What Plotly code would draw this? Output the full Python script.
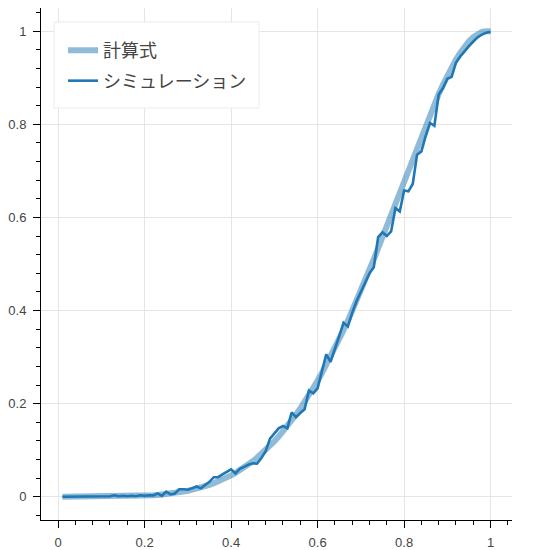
import plotly.graph_objects as go

x_vals = [round(0.01 * i, 2) for i in range(1, 101)]

formula_y = [
    0.0000, 0.0000, 0.0000, 0.0000, 0.0000, 0.0000, 0.0000, 0.0000, 0.0001, 0.0001,
    0.0001, 0.0002, 0.0003, 0.0004, 0.0005, 0.0007, 0.0010, 0.0013, 0.0016, 0.0020,
    0.0025, 0.0031, 0.0038, 0.0046, 0.0056, 0.0067, 0.0079, 0.0093, 0.0109, 0.0127,
    0.0148, 0.0170, 0.0195, 0.0223, 0.0254, 0.0288, 0.0325, 0.0365, 0.0410, 0.0458,
    0.0510, 0.0566, 0.0627, 0.0692, 0.0762, 0.0837, 0.0917, 0.1003, 0.1094, 0.1190,
    0.1293, 0.1401, 0.1515, 0.1636, 0.1762, 0.1895, 0.2035, 0.2181, 0.2333, 0.2492,
    0.2657, 0.2829, 0.3007, 0.3191, 0.3381, 0.3578, 0.3780, 0.3988, 0.4202, 0.4420,
    0.4644, 0.4872, 0.5104, 0.5339, 0.5578, 0.5820, 0.6063, 0.6308, 0.6554, 0.6799,
    0.7044, 0.7287, 0.7528, 0.7765, 0.7997, 0.8224, 0.8444, 0.8655, 0.8857, 0.9048,
    0.9227, 0.9392, 0.9541, 0.9672, 0.9784, 0.9875, 0.9943, 0.9985, 1.0000, 1.0000,
]

sim_y = [
    0.000, 0.000, 0.000, 0.000, 0.000, 0.000, 0.000, 0.000, 0.001, 0.000,
    0.001, 0.001, 0.003, 0.001, 0.002, 0.001, 0.002, 0.001, 0.003, 0.002,
    0.003, 0.003, 0.007, 0.002, 0.011, 0.005, 0.007, 0.016, 0.016, 0.015,
    0.018, 0.022, 0.018, 0.025, 0.032, 0.042, 0.042, 0.048, 0.054, 0.059,
    0.050, 0.060, 0.064, 0.069, 0.072, 0.071, 0.083, 0.098, 0.125, 0.136,
    0.147, 0.152, 0.147, 0.181, 0.171, 0.180, 0.188, 0.228, 0.222, 0.233,
    0.269, 0.306, 0.290, 0.320, 0.345, 0.374, 0.366, 0.395, 0.420, 0.440,
    0.462, 0.480, 0.493, 0.558, 0.568, 0.560, 0.570, 0.620, 0.613, 0.658,
    0.656, 0.672, 0.735, 0.742, 0.775, 0.803, 0.797, 0.864, 0.878, 0.898,
    0.902, 0.933, 0.946, 0.958, 0.968, 0.978, 0.987, 0.993, 0.997, 0.999,
]

x_ticks = [0, 0.2, 0.4, 0.6, 0.8, 1]
x_tick_labels = ["0", "0.2", "0.4", "0.6", "0.8", "1"]
y_ticks = [0, 0.2, 0.4, 0.6, 0.8, 1]
y_tick_labels = ["0", "0.2", "0.4", "0.6", "0.8", "1"]

fig = go.Figure()
fig.add_trace(go.Scatter(
    x=x_vals, y=formula_y, mode="lines", name="計算式",
    line=dict(color="rgba(31,119,180,0.5)", width=6),
    legendgroup="a",
))
fig.add_trace(go.Scatter(
    x=x_vals, y=sim_y, mode="lines", name="シミュレーション",
    line=dict(color="#1f77b4", width=2.6),
    legendgroup="b",
))

axis_common = dict(
    showline=True, linecolor="black", linewidth=1,
    ticks="outside", ticklen=7, tickcolor="black", tickwidth=1,
    showgrid=True, gridcolor="#e5e5e5", gridwidth=1,
    zeroline=False, mirror=False,
    tickfont=dict(family="Liberation Sans, Arial, sans-serif", size=13, color="#444444"),
    minor=dict(ticks="outside", ticklen=4, tickcolor="black", dtick=0.04, showgrid=False),
)

# legend frame (page has an 8px body margin; plot area spans page x 41..512, y 8..520)
fig.add_shape(
    type="rect", xref="paper", yref="paper",
    x0=0.0276, x1=0.4628, y0=0.8047, y1=0.9727,
    line=dict(color="#ebebeb", width=1), fillcolor="white", layer="above",
)

fig.update_layout(
    width=550, height=550,
    margin=dict(l=33, r=46, t=0, b=38, autoexpand=False),
    plot_bgcolor="white", paper_bgcolor="white",
    showlegend=True,
    legend=dict(
        x=0.0467, y=0.953, xanchor="left", yanchor="top",
        bgcolor="rgba(0,0,0,0)", borderwidth=0,
        font=dict(family="Noto Sans CJK JP, sans-serif", size=18, color="#444444"),
        traceorder="grouped", tracegroupgap=4,
        itemwidth=30,
    ),
    xaxis=dict(range=[-0.0395, 1.0495], tickvals=x_ticks, ticktext=x_tick_labels,
               ticklabelstandoff=3, **axis_common),
    yaxis=dict(range=[-0.05, 1.05], tickvals=y_ticks, ticktext=y_tick_labels,
               ticklabelstandoff=4, **axis_common),
)

fig.write_html("out.html")
